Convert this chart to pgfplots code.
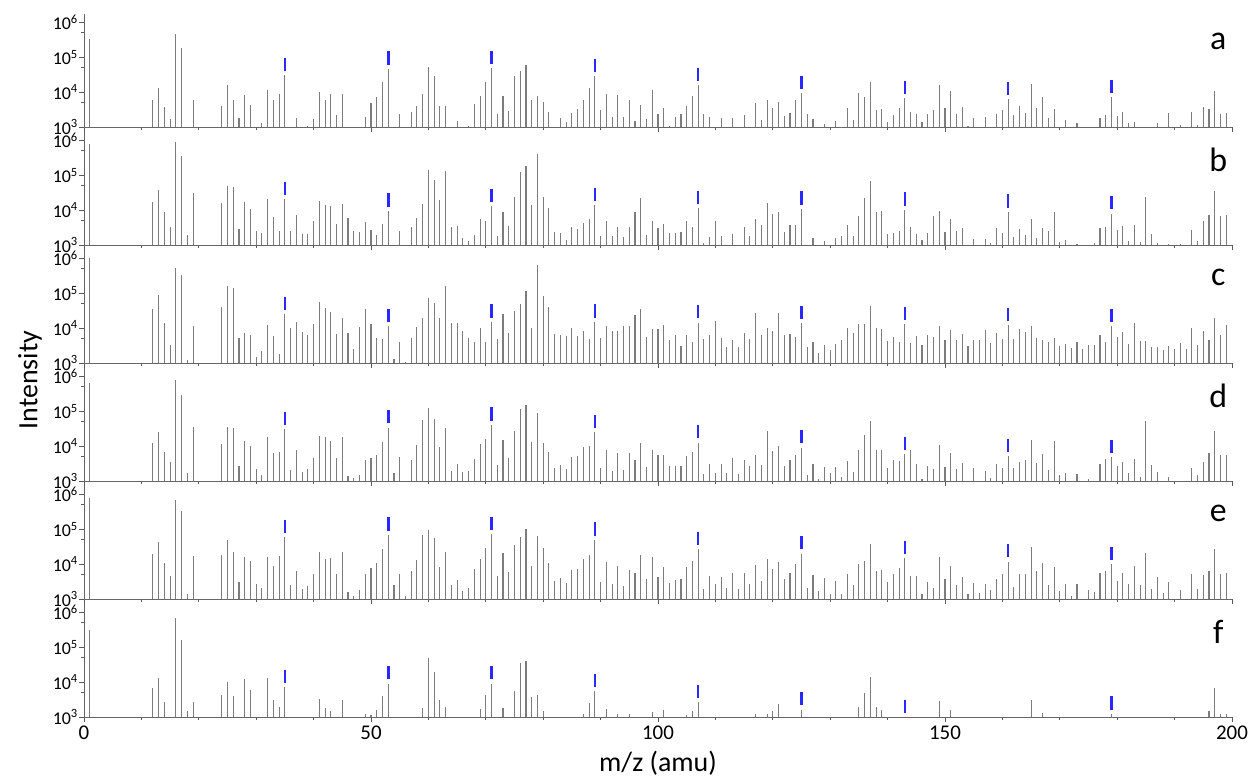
\documentclass[border=0pt]{standalone}
\usepackage{pgfplots}
\usepackage{pgfplotstable}
\pgfplotsset{compat=1.18}
\usepackage{fontspec}
\setmainfont{Carlito}

% columns: m/z, log10(intensity)
\pgfplotstableread{
m v
1 5.53
12 3.78
13 4.12
14 3.56
15 3.24
16 5.68
17 5.27
19 3.78
24 3.60
25 4.19
26 3.76
27 3.26
28 3.91
29 3.63
31 3.11
32 4.06
33 3.77
34 3.95
35 4.48
37 3.26
39 3.02
40 3.22
41 3.99
42 3.76
43 3.94
44 3.33
45 3.95
49 3.28
50 3.69
51 3.85
52 4.28
53 4.67
55 3.37
57 3.42
58 3.60
59 3.94
60 4.71
61 4.45
62 3.59
63 3.59
65 3.16
67 3.03
68 3.66
69 3.90
70 4.30
71 4.68
72 3.37
73 3.90
74 3.46
75 4.45
76 4.62
77 4.79
78 3.78
79 3.90
80 3.71
81 3.44
83 3.25
84 3.13
85 3.40
86 3.52
87 3.78
88 4.12
89 4.46
90 3.48
91 3.95
92 3.28
93 3.92
94 3.30
95 3.78
96 3.18
97 3.64
98 3.23
99 4.05
100 3.37
101 3.54
102 3.04
103 3.30
104 3.36
105 3.61
106 3.90
107 4.19
108 3.36
109 3.30
111 3.26
113 3.26
115 3.34
117 3.69
118 3.19
119 3.78
120 3.54
121 3.72
122 3.31
123 3.40
124 3.77
125 3.97
126 3.37
127 3.23
129 3.10
131 3.18
132 3.01
133 3.54
134 3.19
135 3.97
136 3.87
137 4.29
138 3.50
139 3.53
140 3.14
141 3.34
142 3.55
143 3.83
144 3.42
145 3.36
146 3.13
147 3.36
148 3.49
149 4.19
150 3.54
151 4.02
152 3.36
153 3.57
154 3.04
155 3.26
157 3.30
159 3.36
160 3.50
161 3.79
162 3.33
163 3.61
164 3.39
165 4.23
166 3.55
167 3.87
168 3.26
169 3.51
171 3.20
173 3.11
177 3.26
178 3.34
179 3.85
180 3.31
181 3.44
182 3.11
183 3.13
187 3.11
189 3.39
191 3.07
193 3.44
194 3.05
195 3.57
196 3.52
197 4.02
198 3.38
199 3.40
}\dataA

\pgfplotstableread{
m v
1 5.89
12 4.23
13 4.59
14 3.95
15 3.52
16 5.95
17 5.56
18 3.30
19 4.50
24 4.21
25 4.70
26 4.66
27 3.47
28 4.23
29 4.04
30 3.41
31 3.34
32 4.31
33 3.79
34 3.41
35 4.31
36 3.41
37 3.87
38 3.32
39 3.32
40 3.69
41 4.27
42 4.15
43 4.13
44 3.61
45 4.18
46 3.77
47 3.41
48 3.37
49 3.67
50 3.44
51 3.30
52 3.60
53 3.98
55 3.41
57 3.51
58 3.77
59 4.18
60 5.16
61 4.85
62 4.28
63 5.11
64 3.53
65 3.55
66 3.20
67 3.12
68 3.28
69 3.75
70 3.69
71 4.11
72 3.25
73 3.96
74 3.55
75 4.37
76 5.10
77 5.26
78 4.16
79 5.60
80 4.37
81 4.07
82 3.38
83 3.35
84 3.14
85 3.52
86 3.46
87 3.64
88 3.74
89 4.14
90 3.26
91 3.69
92 3.25
93 3.52
94 3.23
95 3.52
96 3.95
97 4.35
98 3.30
99 3.70
100 3.50
101 3.60
102 3.34
103 3.34
104 3.38
105 3.68
106 3.52
107 4.06
108 3.05
109 3.23
110 3.69
111 3.25
113 3.32
115 3.51
116 3.27
117 3.75
118 3.58
119 4.21
120 3.90
121 3.95
122 3.36
123 3.58
124 3.56
125 4.04
127 3.19
129 3.11
131 3.19
132 3.26
133 3.58
134 3.27
135 3.82
136 4.35
137 4.83
138 3.96
139 3.98
140 3.31
141 3.35
142 3.41
143 4.01
144 3.53
145 3.32
146 3.15
147 3.33
148 3.82
149 3.98
150 3.36
151 3.74
152 3.41
153 3.49
155 3.18
157 3.17
158 3.06
159 3.49
160 3.33
161 3.95
162 3.22
163 3.47
164 3.28
165 3.74
166 3.20
167 3.49
168 3.41
169 3.95
170 3.10
171 3.13
173 3.04
176 3.06
177 3.49
178 3.53
179 3.90
180 3.42
181 3.55
182 3.12
183 3.57
184 3.10
185 4.37
186 3.31
187 3.05
189 3.04
191 3.04
193 3.42
194 3.12
195 3.69
196 3.86
197 4.54
198 3.84
199 3.85
}\dataB

\pgfplotstableread{
m v
1 6.02
12 4.55
13 4.94
14 4.15
15 3.51
16 5.71
17 5.52
18 3.08
19 4.05
24 4.61
25 5.21
26 5.14
27 3.72
28 3.86
29 3.81
30 3.17
31 3.33
32 4.09
33 3.78
34 3.27
35 4.40
36 4.00
37 4.18
38 3.90
39 3.81
40 4.12
41 4.75
42 4.59
43 4.47
44 3.84
45 4.29
46 3.86
47 3.41
48 4.04
49 4.55
50 4.11
51 3.72
52 3.70
53 4.05
54 3.11
55 3.59
56 3.04
57 3.73
58 4.04
59 4.30
60 4.86
61 4.71
62 4.28
63 5.22
64 4.16
65 4.16
66 3.92
67 3.71
68 3.61
69 4.00
70 3.61
71 4.18
72 3.69
73 4.40
74 3.86
75 4.50
76 4.69
77 5.07
78 3.99
79 5.80
80 4.92
81 4.60
82 3.82
83 3.79
84 3.78
85 4.01
86 3.76
87 3.93
88 3.70
89 4.18
90 3.73
91 4.05
92 3.93
93 3.92
94 4.07
95 4.07
96 4.37
97 4.55
98 3.75
99 3.98
100 3.98
101 4.08
102 3.65
103 3.81
104 3.48
105 3.81
106 3.59
107 4.16
108 3.69
109 3.79
110 4.21
111 3.71
112 3.47
113 3.66
114 3.45
115 3.86
116 3.69
117 4.43
118 3.80
119 4.01
120 3.93
121 4.43
122 3.80
123 3.82
124 3.74
125 4.14
126 3.45
127 3.61
128 3.30
129 3.52
130 3.37
131 3.54
132 3.66
133 4.00
134 3.86
135 4.11
136 4.11
137 4.63
138 4.00
139 3.97
140 3.64
141 3.74
142 3.61
143 4.11
144 3.57
145 3.77
146 3.52
147 3.81
148 3.74
149 4.07
150 3.66
151 3.95
152 3.67
153 3.82
154 3.50
155 3.67
156 3.65
157 3.95
158 3.57
159 3.87
160 3.70
161 4.09
162 3.68
163 3.97
164 3.88
165 4.07
166 3.73
167 3.67
168 3.61
169 3.71
170 3.50
171 3.55
172 3.43
173 3.59
174 3.40
175 3.51
176 3.51
177 3.80
178 3.61
179 4.06
180 3.74
181 3.88
182 3.55
183 4.16
184 3.63
185 3.63
186 3.47
187 3.47
188 3.37
189 3.49
190 3.39
191 3.58
192 3.41
193 4.00
194 3.52
195 3.92
196 3.66
197 4.30
198 3.81
199 4.08
}\dataC

\pgfplotstableread{
m v
1 5.81
12 4.08
13 4.40
14 3.84
15 3.54
16 5.90
17 5.48
18 3.24
19 4.55
24 4.05
25 4.55
26 4.53
27 3.44
28 4.14
29 3.99
30 3.33
31 3.18
32 4.26
33 3.80
34 3.84
35 4.48
36 3.31
37 3.88
38 3.26
39 3.35
40 3.66
41 4.29
42 4.26
43 4.14
44 3.67
45 4.26
46 3.14
47 3.08
48 3.17
49 3.60
50 3.67
51 3.74
52 4.13
53 4.53
54 3.23
55 3.69
57 3.59
58 4.03
59 4.76
60 5.10
61 4.79
62 3.98
63 4.51
64 3.30
65 3.49
66 3.26
67 3.28
68 3.63
69 4.07
70 4.21
71 4.61
72 3.46
73 4.18
74 3.66
75 4.42
76 5.07
77 5.18
78 4.13
79 4.94
80 4.10
81 3.84
82 3.38
83 3.47
84 3.35
85 3.70
86 3.71
87 3.98
88 4.01
89 4.40
90 3.36
91 3.88
92 3.29
93 3.79
94 3.31
95 3.80
96 3.59
97 4.10
98 3.39
99 3.90
100 3.75
101 3.76
102 3.43
103 3.43
104 3.42
105 3.73
106 3.84
107 4.10
108 3.19
109 3.48
110 3.23
111 3.50
112 3.24
113 3.66
114 3.20
115 3.61
116 3.42
117 3.76
118 3.47
119 4.44
120 3.85
121 3.99
122 3.43
123 3.61
124 3.74
125 3.96
126 3.17
127 3.48
128 3.07
129 3.39
130 3.22
131 3.41
132 3.12
133 3.57
134 3.27
135 3.90
136 4.32
137 4.72
138 3.90
139 3.88
140 3.36
141 3.59
142 3.58
143 3.77
144 3.88
145 3.50
146 3.05
147 3.43
148 3.35
149 4.02
150 3.40
151 3.80
152 3.33
153 3.52
155 3.36
157 3.28
158 3.09
159 3.48
160 3.37
161 3.71
162 3.36
163 3.54
164 3.59
165 4.18
166 3.52
167 3.77
168 3.31
169 4.14
170 3.17
171 3.24
173 3.19
175 3.05
177 3.50
178 3.63
179 3.69
180 3.44
181 3.54
182 3.23
183 3.62
184 3.12
185 4.73
186 3.46
187 3.26
189 3.12
193 3.37
194 3.17
195 3.55
196 3.80
197 4.43
198 3.76
199 3.75
}\dataD

\pgfplotstableread{
m v
1 5.89
12 4.28
13 4.63
14 4.02
15 3.66
16 5.83
17 5.53
18 3.15
19 4.23
24 4.25
25 4.70
26 4.36
27 3.49
28 4.20
29 4.09
30 3.43
31 3.32
32 4.21
33 3.96
34 4.23
35 4.77
36 3.41
37 3.80
38 3.28
39 3.36
40 3.72
41 4.35
42 4.14
43 4.17
44 3.72
45 4.36
46 3.19
47 3.08
48 3.26
49 3.72
50 3.88
51 4.03
52 4.44
53 4.84
54 3.41
55 3.72
56 3.10
57 3.79
58 4.11
59 4.84
60 4.98
61 4.76
62 3.92
63 4.35
64 3.41
65 3.55
66 3.22
67 3.31
68 3.85
69 4.16
70 4.47
71 4.85
72 3.65
73 4.33
74 3.77
75 4.56
76 4.79
77 5.01
78 3.96
79 4.80
80 4.47
81 4.02
82 3.52
83 3.60
84 3.46
85 3.82
86 3.85
87 4.14
88 4.27
89 4.70
90 3.50
91 4.07
92 3.43
93 3.94
94 3.36
95 3.84
96 3.75
97 4.27
98 3.58
99 4.20
100 3.62
101 3.92
102 3.47
103 3.55
104 3.58
105 3.91
106 4.09
107 4.42
108 3.29
109 3.66
110 3.42
111 3.63
112 3.31
113 3.75
114 3.29
115 3.75
116 3.43
117 3.97
118 3.52
119 4.16
120 3.85
121 4.06
122 3.57
123 3.76
124 4.00
125 4.30
126 3.32
127 3.69
128 3.22
129 3.59
130 3.15
131 3.53
132 3.13
133 3.72
134 3.41
135 4.00
136 4.08
137 4.59
138 3.80
139 3.83
140 3.48
141 3.72
142 3.88
143 4.17
144 3.67
145 3.66
146 3.14
147 3.50
148 3.31
149 4.21
150 3.57
151 3.95
152 3.41
153 3.62
154 3.15
155 3.45
156 3.17
157 3.42
158 3.27
159 3.58
160 3.71
161 4.07
162 3.35
163 3.72
164 3.72
165 4.50
166 3.80
167 4.03
168 3.40
169 3.91
170 3.22
171 3.42
172 3.08
173 3.43
175 3.27
176 3.19
177 3.75
178 3.79
179 4.00
180 3.51
181 3.74
182 3.43
183 3.95
184 3.41
185 4.31
186 3.29
187 3.64
188 3.17
189 3.50
191 3.25
193 3.72
194 3.29
195 3.70
196 3.81
197 4.42
198 3.71
199 3.76
}\dataE

\pgfplotstableread{
m v
1 5.50
12 3.83
13 4.13
14 3.42
16 5.85
17 5.21
18 3.16
19 3.42
24 3.63
25 3.99
26 3.59
28 4.09
29 3.77
32 4.13
33 3.48
34 3.30
35 3.86
41 3.52
42 3.25
43 3.16
45 3.50
49 3.09
50 3.07
51 3.19
52 3.59
53 3.96
59 3.26
60 4.68
61 4.30
62 3.48
63 3.30
69 3.23
70 3.62
71 3.96
73 3.25
75 3.76
76 4.54
77 4.62
78 3.58
79 3.63
80 3.16
87 3.08
88 3.40
89 3.74
91 3.22
93 3.10
95 3.10
99 3.14
101 3.21
105 3.05
106 3.16
107 3.42
117 3.10
119 3.10
120 3.17
121 3.38
125 3.21
135 3.30
136 3.70
137 4.14
138 3.29
139 3.19
149 3.45
151 3.21
165 3.48
167 3.11
179 3.10
196 3.17
197 3.82
198 3.10
199 3.10
}\dataF

% blue marks above the water-cluster peaks (centre, log10)
\pgfplotstableread{
m c
35 4.79
53 4.98
71 4.99
89 4.77
107 4.50
125 4.28
143 4.14
161 4.10
179 4.16
}\markA
\pgfplotstableread{
m c
35 4.62
53 4.29
71 4.42
89 4.45
107 4.37
125 4.35
143 4.32
161 4.26
179 4.21
}\markB
\pgfplotstableread{
m c
35 4.71
53 4.36
71 4.49
89 4.49
107 4.47
125 4.45
143 4.42
161 4.40
179 4.37
}\markC
\pgfplotstableread{
m c
35 4.79
53 4.84
71 4.92
89 4.71
107 4.41
125 4.27
143 4.08
161 4.02
179 4.00
}\markD
\pgfplotstableread{
m c
35 5.08
53 5.15
71 5.16
89 5.01
107 4.73
125 4.61
143 4.48
161 4.38
179 4.31
}\markE
\pgfplotstableread{
m c
35 4.17
53 4.27
71 4.27
89 4.05
107 3.73
125 3.52
143 3.31
179 3.40
}\markF

\definecolor{stick}{RGB}{125,125,125}
\definecolor{mk}{RGB}{40,40,255}

\pgfplotsset{
  spec/.style={
    scale only axis, width=1148bp, height=113bp,
    anchor=south west,
    axis x line*=bottom, axis y line*=left,
    xmin=0, xmax=200, ymin=3, ymax=6.24,
    xtick={0,50,100,150,200},
    minor xtick={10,20,30,40,60,70,80,90,110,120,130,140,160,170,180,190},
    ytick={3,4,5,6}, minor ytick={3.699,4.699,5.699},
    yticklabels={10\textsuperscript{3},10\textsuperscript{4},10\textsuperscript{5},10\textsuperscript{6}},
    xticklabels={},
    tick align=outside,
    major tick length=5bp, minor tick length=3bp,
    every tick/.style={black!65, line width=0.8bp},
    axis line style={black!60, line width=1bp, -},
    yticklabel style={font=\fontsize{18}{19}\selectfont, inner sep=1bp},
    xticklabel style={font=\fontsize{21}{22}\selectfont},
    clip mode=individual,
  },
  sticks/.style={ycomb, draw=stick, line width=1.1bp},
  marks/.style={only marks, mark=|, mark size=6.6bp, mark options={draw=mk, line width=2.6bp}},
}

\newcommand{\letter}[1]{\node[font=\fontsize{34}{36}\selectfont, anchor=center] at (rel axis cs:0.988,0.755) {#1};}

\begin{document}
\begin{tikzpicture}
\path[use as bounding box] (0,0) rectangle (1251bp,-779bp);

\begin{axis}[spec, at={(84bp,-127bp)}]
\addplot[sticks] table[x=m,y=v] {\dataA};
\addplot[marks] table[x=m,y=c] {\markA};
\letter{a}
\end{axis}

\begin{axis}[spec, at={(84bp,-245bp)}]
\addplot[sticks] table[x=m,y=v] {\dataB};
\addplot[marks] table[x=m,y=c] {\markB};
\letter{b}
\end{axis}

\begin{axis}[spec, at={(84bp,-363bp)}]
\addplot[sticks] table[x=m,y=v] {\dataC};
\addplot[marks] table[x=m,y=c] {\markC};
\letter{c}
\end{axis}

\begin{axis}[spec, at={(84bp,-481bp)}]
\addplot[sticks] table[x=m,y=v] {\dataD};
\addplot[marks] table[x=m,y=c] {\markD};
\letter{d}
\end{axis}

\begin{axis}[spec, at={(84bp,-599bp)}]
\addplot[sticks] table[x=m,y=v] {\dataE};
\addplot[marks] table[x=m,y=c] {\markE};
\letter{e}
\end{axis}

\begin{axis}[spec, at={(84bp,-717bp)}, xticklabels={0,50,100,150,200}]
\addplot[sticks] table[x=m,y=v] {\dataF};
\addplot[marks] table[x=m,y=c] {\markF};
\letter{f}
\end{axis}

\node[font=\fontsize{28}{30}\selectfont] at (658bp,-763bp) {m/z (amu)};
\node[font=\fontsize{28}{30}\selectfont, rotate=90] at (30bp,-380bp) {Intensity};
\end{tikzpicture}
\end{document}
